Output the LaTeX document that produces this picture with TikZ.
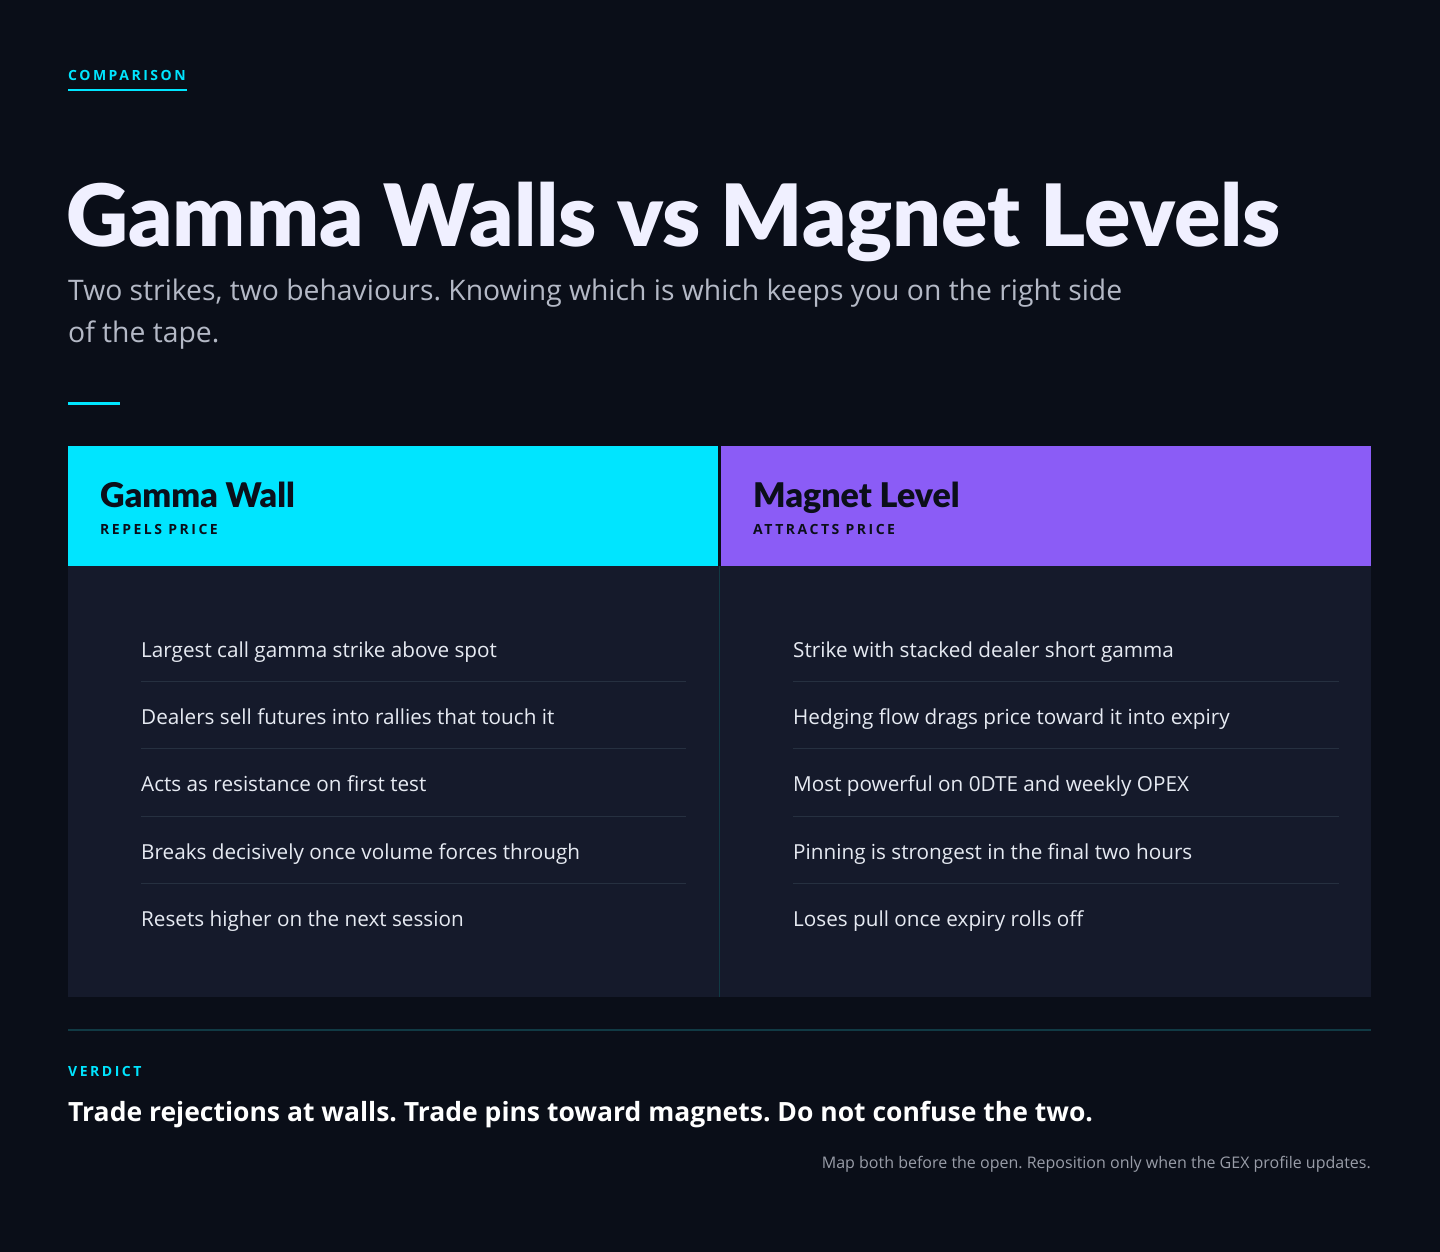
\documentclass[tikz,border=0pt]{standalone}
\usepackage{fontspec}
\setmainfont{Open Sans}
\newfontfamily\spaced[LetterSpace=18]{Open Sans}
\newfontfamily\titlef{Lato Black}
\definecolor{bg}{HTML}{0A0E18}
\definecolor{card}{HTML}{151A2B}
\definecolor{cy}{HTML}{00E5FF}
\definecolor{pu}{HTML}{8B5CF6}
\definecolor{ink}{HTML}{0B0F1A}
\definecolor{txt}{HTML}{E6EAF2}
\definecolor{sub}{HTML}{B4B9C6}
\definecolor{sep}{HTML}{263040}
\definecolor{teal}{HTML}{113A44}
\begin{document}
\frenchspacing
\begin{tikzpicture}[x=1pt,y=-1pt,
  lab/.style={anchor=base west,inner sep=0pt},
  kick/.style={lab,text=cy,font=\spaced\bfseries\fontsize{14}{14}\selectfont},
  item/.style={lab,text=txt,font=\fontsize{20.7}{24}\selectfont},
  hd/.style={lab,text=ink,font=\titlef\fontsize{34}{34}\selectfont},
  hs/.style={lab,text=ink,font=\spaced\bfseries\fontsize{14}{14}\selectfont}]
\fill[bg] (0,0) rectangle (1440,1252);
\useasboundingbox (0,0) rectangle (1440,1252);
\node[kick] (k) at (68,81) {COMPARISON};
\draw[cy,line width=2] (68,90) -- (187,90);
\node[lab,text=white!94!blue,font=\titlef\fontsize{86}{86}\selectfont] (t) at (66,247) {Gamma Walls vs Magnet Levels};
\node[lab,text=sub,font=\fontsize{28.3}{42}\selectfont] (s1) at (68,300) {Two strikes, two behaviours. Knowing which is which keeps you on the right side};
\node[lab,text=sub,font=\fontsize{28.3}{42}\selectfont] (s2) at (68,342) {of the tape.};
\draw[cy,line width=3] (68,403) -- (120,403);
\fill[card] (68,566) rectangle (1371,997);
\fill[cy] (68,446) rectangle (718,566);
\fill[pu] (721,446) rectangle (1371,566);
\draw[teal,line width=1.5] (719.5,566) -- (719.5,997);
\node[hd] (h1) at (100,507) {Gamma Wall};
\node[hs] (h1s) at (100,534) {REPELS PRICE};
\node[hd] (h2) at (753,507) {Magnet Level};
\node[hs] (h2s) at (753,534) {ATTRACTS PRICE};
\foreach \y in {681,748,816,883}{
  \draw[sep] (141,\y) -- (686,\y);
  \draw[sep] (793,\y) -- (1339,\y);}
\node[item] (a1) at (141,657) {Largest call gamma strike above spot};
\node[item] (a2) at (141,724) {Dealers sell futures into rallies that touch it};
\node[item] (a3) at (141,791) {Acts as resistance on first test};
\node[item] (a4) at (141,859) {Breaks decisively once volume forces through};
\node[item] (a5) at (141,926) {Resets higher on the next session};
\node[item] (b1) at (793,657) {Strike with stacked dealer short gamma};
\node[item] (b2) at (793,724) {Hedging flow drags price toward it into expiry};
\node[item] (b3) at (793,791) {Most powerful on 0DTE and weekly OPEX};
\node[item] (b4) at (793,859) {Pinning is strongest in the final two hours};
\node[item] (b5) at (793,926) {Loses pull once expiry rolls off};
\draw[teal,line width=1.5] (68,1030) -- (1371,1030);
\node[kick] (v) at (68,1076) {VERDICT};
\node[lab,text=white,font=\bfseries\fontsize{26.5}{30}\selectfont] (vt) at (68,1121) {Trade rejections at walls. Trade pins toward magnets. Do not confuse the two.};
\node[anchor=base east,inner sep=0pt,text=sub!85!black,font=\fontsize{16}{20}\selectfont] (f) at (1371,1168) {Map both before the open. Reposition only when the GEX profile updates.};
\end{tikzpicture}
\end{document}
